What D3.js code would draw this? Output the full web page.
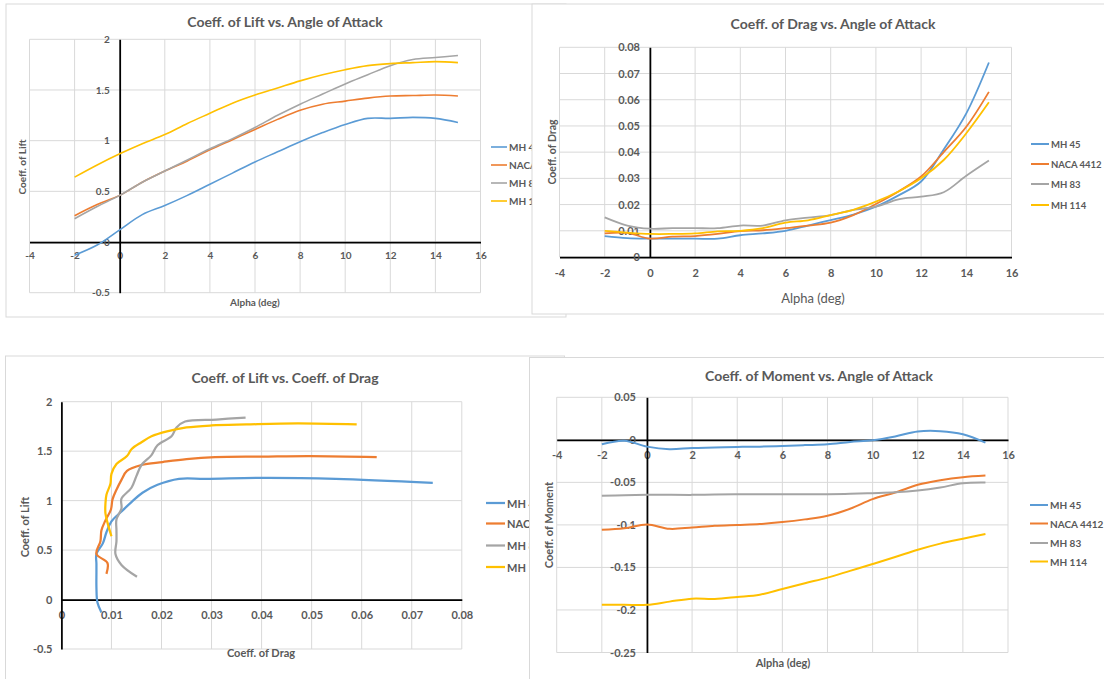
<!DOCTYPE html>
<html>
<head>
<meta charset="utf-8">
<script src="https://cdn.jsdelivr.net/npm/d3@7"></script>
<style>
  body { margin: 0; background: #fff; }
  text { font-family: Lato, "Open Sans", sans-serif; fill: #595959; }
</style>
</head>
<body>
<script>
// Angle of attack (deg) for every series
var alpha = [-2, -1, 0, 1, 2, 3, 4, 5, 6, 7, 8, 9, 10, 11, 12, 13, 14, 15];
var seriesNames = ["MH 45", "NACA 4412", "MH 83", "MH 114"];
var seriesColors = ["#5B9BD5", "#ED7D31", "#A5A5A5", "#FFC000"];

// Coefficient of lift
var clMH45 = [-0.13, -0.03, 0.12, 0.27, 0.36, 0.46, 0.57, 0.68, 0.79, 0.89, 0.99, 1.08, 1.16, 1.22, 1.22, 1.23, 1.22, 1.18];
var clNACA = [0.26, 0.37, 0.46, 0.59, 0.70, 0.80, 0.91, 1.01, 1.11, 1.21, 1.30, 1.36, 1.39, 1.42, 1.44, 1.445, 1.45, 1.44];
var clMH83 = [0.23, 0.35, 0.46, 0.59, 0.70, 0.81, 0.92, 1.02, 1.13, 1.25, 1.36, 1.46, 1.56, 1.65, 1.74, 1.80, 1.82, 1.84];
var clMH114 = [0.64, 0.76, 0.87, 0.97, 1.06, 1.17, 1.27, 1.37, 1.45, 1.52, 1.59, 1.65, 1.70, 1.74, 1.76, 1.77, 1.78, 1.77];

// Coefficient of drag
var cdMH45 = [0.0080, 0.0072, 0.0070, 0.0070, 0.0070, 0.0070, 0.0083, 0.0090, 0.0100, 0.0120, 0.0141, 0.0162, 0.0192, 0.0235, 0.0288, 0.0410, 0.0548, 0.0742];
var cdNACA = [0.0090, 0.0092, 0.0070, 0.0078, 0.0080, 0.0088, 0.0099, 0.0102, 0.0110, 0.0120, 0.0131, 0.0160, 0.0202, 0.0250, 0.0307, 0.0400, 0.0497, 0.0630];
var cdMH83 = [0.0151, 0.0120, 0.0108, 0.0110, 0.0110, 0.0110, 0.0120, 0.0120, 0.0140, 0.0150, 0.0160, 0.0180, 0.0192, 0.0220, 0.0230, 0.0247, 0.0310, 0.0368];
var cdMH114 = [0.0100, 0.0093, 0.0088, 0.0088, 0.0090, 0.0098, 0.0100, 0.0110, 0.0131, 0.0140, 0.0160, 0.0180, 0.0211, 0.0250, 0.0300, 0.0370, 0.0472, 0.0590];

// Coefficient of moment
var cmMH45 = [-0.0052, -0.0010, -0.0080, -0.0110, -0.0095, -0.0090, -0.0083, -0.0080, -0.0072, -0.0062, -0.0052, -0.0025, -0.0005, 0.0040, 0.0098, 0.0102, 0.0066, -0.0033];
var cmNACA = [-0.1058, -0.1040, -0.0995, -0.1046, -0.1030, -0.1010, -0.1000, -0.0990, -0.0967, -0.0935, -0.0893, -0.0810, -0.0697, -0.0620, -0.0529, -0.0475, -0.0439, -0.0420];
var cmMH83 = [-0.0658, -0.0652, -0.0647, -0.0647, -0.0647, -0.0642, -0.0640, -0.0640, -0.0640, -0.0640, -0.0640, -0.0635, -0.0627, -0.0617, -0.0596, -0.0560, -0.0510, -0.0502];
var cmMH114 = [-0.1940, -0.1940, -0.1940, -0.1902, -0.1867, -0.1870, -0.1847, -0.1820, -0.1753, -0.1685, -0.1620, -0.1540, -0.1460, -0.1378, -0.1292, -0.1220, -0.1163, -0.1108];

// Tick labels
var alphaTicks = [-4, -2, 0, 2, 4, 6, 8, 10, 12, 14, 16];
var clTicks = [-0.5, 0, 0.5, 1, 1.5, 2];
var cdTicks = [0, 0.01, 0.02, 0.03, 0.04, 0.05, 0.06, 0.07, 0.08];
var cmTicks = [-0.25, -0.2, -0.15, -0.1, -0.05, 0, 0.05];

var clAll = [clMH45, clNACA, clMH83, clMH114];
var cdAll = [cdMH45, cdNACA, cdMH83, cdMH114];
var cmAll = [cmMH45, cmNACA, cmMH83, cmMH114];

var svg = d3.select("body").append("svg")
    .attr("width", 1104)
    .attr("height", 679);

// pair x values with y values for one series
function pairs(xs, ys) {
    return xs.map(function (x, i) { return [x, ys[i]]; });
}

function drawChart(c) {
    var g = svg.append("g");
    // chart frame (later charts cover earlier ones)
    g.append("rect")
        .attr("x", c.frame[0]).attr("y", c.frame[1])
        .attr("width", c.frame[2]).attr("height", c.frame[3])
        .attr("fill", "#fff").attr("stroke", "#d9d9d9").attr("stroke-width", 1);

    var x = d3.scaleLinear().domain(c.xDomain).range([c.plot[0], c.plot[1]]);
    var y = d3.scaleLinear().domain(c.yDomain).range([c.plot[3], c.plot[2]]);

    // gridlines
    g.append("g").selectAll("line").data(c.xTicks).enter().append("line")
        .attr("x1", d => x(d)).attr("x2", d => x(d))
        .attr("y1", y(c.yDomain[0])).attr("y2", y(c.yDomain[1]))
        .attr("stroke", "#d9d9d9").attr("stroke-width", 1);
    g.append("g").selectAll("line").data(c.yTicks).enter().append("line")
        .attr("x1", x(c.xDomain[0])).attr("x2", x(c.xDomain[1]))
        .attr("y1", d => y(d)).attr("y2", d => y(d))
        .attr("stroke", "#d9d9d9").attr("stroke-width", 1);

    // axes crossing at zero
    var xAxis = g.append("g")
        .attr("transform", `translate(0, ${y(0)})`)
        .call(d3.axisBottom(x).tickValues(c.xTicks).tickSize(0).tickPadding(c.xPad).tickFormat(d => String(d)));
    var yAxis = g.append("g")
        .attr("transform", `translate(${x(0)}, 0)`)
        .call(d3.axisLeft(y).tickValues(c.yTicks).tickSize(0).tickPadding(c.yPad).tickFormat(d => String(d)));
    [xAxis, yAxis].forEach(function (a) {
        a.select(".domain").attr("stroke", "#000").attr("stroke-width", 1.75);
        a.selectAll("text")
            .style("font-size", c.tickFont + "px")
            .style("font-weight", "bold")
            .attr("fill", "#595959");
    });

    // series
    var line = d3.line()
        .x(d => x(d[0]))
        .y(d => y(d[1]))
        .curve(d3.curveCatmullRom.alpha(0.5));
    c.series.forEach(function (s, i) {
        g.append("path")
            .datum(s)
            .attr("fill", "none")
            .attr("stroke", seriesColors[i])
            .attr("stroke-width", c.lineWidth)
            .attr("d", line);
    });

    // titles
    g.append("text")
        .attr("x", c.title[1]).attr("y", c.title[2])
        .attr("text-anchor", "middle").attr("dominant-baseline", "central")
        .style("font-size", "14px").style("font-weight", "bold")
        .text(c.title[0]);
    g.append("text")
        .attr("x", c.xTitle[1]).attr("y", c.xTitle[2])
        .attr("text-anchor", "middle").attr("dominant-baseline", "central")
        .style("font-size", c.xTitle[3] + "px").style("font-weight", c.xTitle[4])
        .text(c.xTitle[0]);
    g.append("text")
        .attr("transform", `translate(${c.yTitle[1]}, ${c.yTitle[2]}) rotate(-90)`)
        .attr("text-anchor", "middle").attr("dominant-baseline", "central")
        .style("font-size", c.yTitle[3] + "px").style("font-weight", "bold")
        .text(c.yTitle[0]);

    // legend
    seriesNames.forEach(function (name, i) {
        var ly = c.legend.ys[i];
        g.append("line")
            .attr("x1", c.legend.x0).attr("x2", c.legend.x1)
            .attr("y1", ly).attr("y2", ly)
            .attr("stroke", seriesColors[i]).attr("stroke-width", c.legendWidth);
        g.append("text")
            .attr("x", c.legend.x1 + 2).attr("y", ly)
            .attr("dominant-baseline", "central")
            .style("font-size", c.legendFont + "px").style("font-weight", "bold")
            .text(name);
    });
}

// Coeff. of Lift vs. Angle of Attack
drawChart({
    frame: [6, 4, 560, 313],
    plot: [29.5, 480.5, 39.3, 292.7],
    xDomain: [-4, 16], yDomain: [-0.5, 2],
    xTicks: alphaTicks, yTicks: clTicks,
    xPad: 10, yPad: 10, tickFont: 10,
    series: clAll.map(ys => pairs(alpha, ys)),
    lineWidth: 1.6,
    title: ["Coeff. of Lift vs. Angle of Attack", 285, 21],
    xTitle: ["Alpha (deg)", 255, 302, 10, "bold"],
    yTitle: ["Coeff. of Lift", 22, 167, 10],
    legend: { x0: 491, x1: 507, ys: [147, 165, 183, 201] },
    legendWidth: 1.6, legendFont: 10
});

// Coeff. of Drag vs. Angle of Attack
drawChart({
    frame: [532, 4, 590, 310],
    plot: [559.5, 1011.5, 47.3, 257],
    xDomain: [-4, 16], yDomain: [0, 0.08],
    xTicks: alphaTicks, yTicks: cdTicks,
    xPad: 12, yPad: 10, tickFont: 11,
    series: cdAll.map(ys => pairs(alpha, ys)),
    lineWidth: 1.8,
    title: ["Coeff. of Drag vs. Angle of Attack", 833, 23],
    xTitle: ["Alpha (deg)", 813, 298, 13, "normal"],
    yTitle: ["Coeff. of Drag", 552, 152, 10.5],
    legend: { x0: 1031, x1: 1049, ys: [144, 164, 184, 205] },
    legendWidth: 2, legendFont: 9.5
});

// Coeff. of Lift vs. Coeff. of Drag
drawChart({
    frame: [5.5, 356, 559, 340],
    plot: [61.4, 461.8, 401.7, 649],
    xDomain: [0, 0.08], yDomain: [-0.5, 2],
    xTicks: cdTicks, yTicks: clTicks,
    xPad: 12, yPad: 9, tickFont: 11,
    series: cdAll.map((xs, i) => pairs(xs, clAll[i])),
    lineWidth: 2.25,
    title: ["Coeff. of Lift vs. Coeff. of Drag", 285, 377],
    xTitle: ["Coeff. of Drag", 261, 652, 11, "bold"],
    yTitle: ["Coeff. of Lift", 24, 527, 11],
    legend: { x0: 486, x1: 505, ys: [503, 523.5, 545.5, 567] },
    legendWidth: 2.25, legendFont: 11
});

// Coeff. of Moment vs. Angle of Attack
drawChart({
    frame: [529.5, 357.5, 590, 340],
    plot: [556.7, 1008, 397.3, 652.5],
    xDomain: [-4, 16], yDomain: [-0.25, 0.05],
    xTicks: alphaTicks, yTicks: cmTicks,
    xPad: 11, yPad: 11, tickFont: 11,
    series: cmAll.map(ys => pairs(alpha, ys)),
    lineWidth: 2,
    title: ["Coeff. of Moment vs. Angle of Attack", 819, 375],
    xTitle: ["Alpha (deg)", 783, 662, 11, "bold"],
    yTitle: ["Coeff. of Moment", 548, 525, 11],
    legend: { x0: 1030, x1: 1048, ys: [505, 523.5, 543, 561.5] },
    legendWidth: 2, legendFont: 10
});
</script>
</body>
</html>
